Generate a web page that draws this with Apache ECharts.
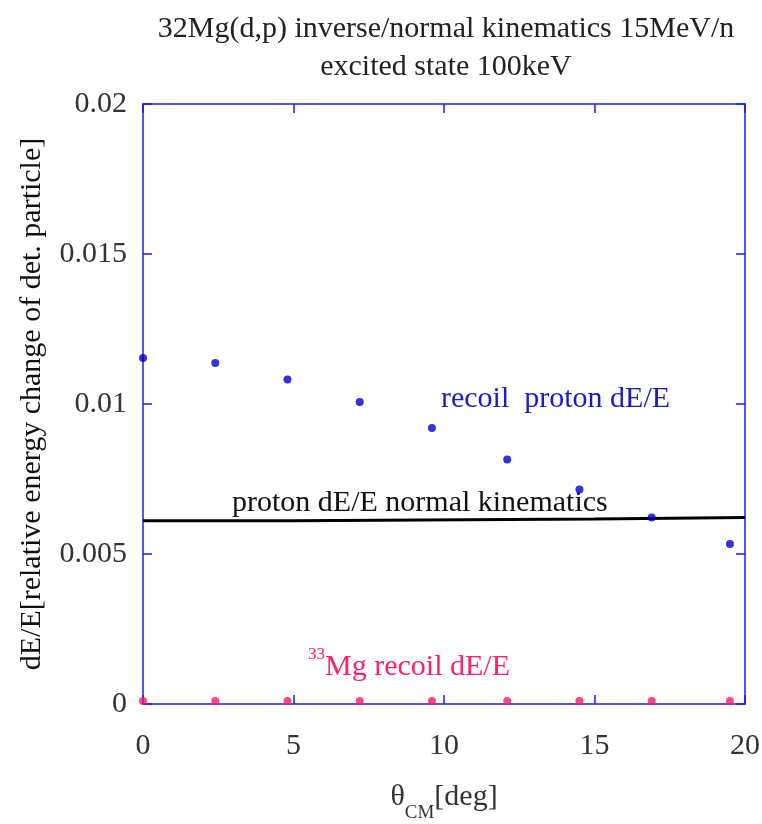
<!DOCTYPE html>
<html><head><meta charset="utf-8">
<script src="https://cdn.jsdelivr.net/npm/echarts@6/dist/echarts.min.js"></script>
<style>html,body{margin:0;padding:0;background:#fff}#c{width:762px;height:824px}</style>
</head><body><div id="c"></div>
<script>
const angles = [0, 2.4, 4.8, 7.2, 9.6, 12.1, 14.5, 16.9, 19.5];
const recoilProton = [0.01153, 0.01137, 0.01082, 0.01007, 0.00920, 0.00815, 0.00715, 0.00622, 0.00533];
const recoilMg = [0.0001, 0.0001, 0.0001, 0.0001, 0.0001, 0.0001, 0.0001, 0.0001, 0.0001];
const normalX = [0, 5.0, 5.0, 15.0, 15.0, 20];
const normalY = [0.00611, 0.00611, 0.00614, 0.00617, 0.00621, 0.00622];
const yTicks = [0, 0.005, 0.01, 0.015, 0.02];
const xTicks = [0, 5, 10, 15, 20];

const FONT = '"Liberation Serif", "DejaVu Serif", serif';
const BLUE = '#1a1aff';
const chart = echarts.init(document.getElementById('c'));
const zip = (a, b) => a.map((v, i) => [v, b[i]]);
const axisCommon = {
  min: 0, axisLine: { show: true, onZero: false, lineStyle: { color: BLUE, width: 1.5 } },
  axisTick: { show: true, inside: true, length: 9, lineStyle: { color: BLUE, width: 1.5 } },
  splitLine: { show: false }
};
chart.setOption({
  animation: false,
  backgroundColor: '#fff',
  title: {
    text: '32Mg(d,p) inverse/normal kinematics 15MeV/n\nexcited state 100keV',
    left: 441, top: 5, textAlign: 'center',
    textStyle: { fontFamily: FONT, fontSize: 30, fontWeight: 'normal', color: '#222', lineHeight: 38 }
  },
  grid: { left: 143, right: 17, top: 104, bottom: 120, containLabel: false, outerBoundsMode: 'none' },
  xAxis: [
    Object.assign({}, axisCommon, {
      type: 'value', max: 20, interval: 5, position: 'bottom',
      axisLabel: { fontFamily: FONT, fontSize: 30, color: '#333', margin: 27,
        formatter: v => xTicks.includes(v) ? String(v) : '' },
      name: '{t|θ}{s|CM}{t|[deg]}', nameLocation: 'middle', nameGap: 74,
      nameTextStyle: { rich: {
        t: { fontFamily: FONT, fontSize: 30, color: '#333', verticalAlign: 'bottom', lineHeight: 34 },
        s: { fontFamily: FONT, fontSize: 19, color: '#333', verticalAlign: 'bottom', padding: [0, 0, -11, 0], lineHeight: 34 }
      } }
    }),
    Object.assign({}, axisCommon, {
      type: 'value', max: 20, interval: 5, position: 'top', axisLabel: { show: false }
    })
  ],
  yAxis: [
    Object.assign({}, axisCommon, {
      type: 'value', max: 0.02, interval: 0.005, position: 'left',
      axisLabel: { fontFamily: FONT, fontSize: 30, color: '#333', margin: 16,
        formatter: v => String(+v.toFixed(3)) },
      name: 'dE/E[relative energy change of det. particle]', nameLocation: 'middle', nameGap: 96,
      nameTextStyle: { fontFamily: FONT, fontSize: 30, color: '#111' }
    }),
    Object.assign({}, axisCommon, {
      type: 'value', max: 0.02, interval: 0.005, position: 'right', axisLabel: { show: false }
    })
  ],
  series: [
    { type: 'line', data: zip(normalX, normalY), symbol: 'none', lineStyle: { color: '#000', width: 3 }, z: 2 },
    { type: 'scatter', data: zip(angles, recoilProton), symbolSize: 8, itemStyle: { color: '#0000cc' }, z: 3 },
    { type: 'scatter', data: zip(angles, recoilMg), symbolSize: 8, itemStyle: { color: '#ff1a66' }, z: 3 }
  ],
  graphic: [
    { type: 'text', left: 441, top: 384, style: { text: 'recoil  proton dE/E', font: '30px ' + FONT, fill: '#1a1acc' } },
    { type: 'text', left: 232, top: 488, style: { text: 'proton dE/E normal kinematics', font: '30px ' + FONT, fill: '#111' } },
    { type: 'text', left: 308, top: 646, style: {
      text: '{s|33}{t|Mg recoil dE/E}',
      rich: {
        s: { fontFamily: FONT, fontSize: 17, fill: '#ff2266', verticalAlign: 'top', lineHeight: 36 },
        t: { fontFamily: FONT, fontSize: 30, fill: '#ff2266', verticalAlign: 'bottom', lineHeight: 36 }
      } } }
  ]
});
</script></body></html>
